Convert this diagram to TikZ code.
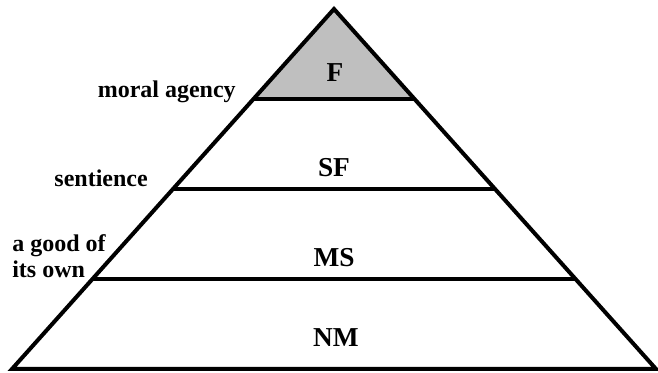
\documentclass[tikz,border=0pt]{standalone}
\usepackage{fontspec}
\setmainfont{Liberation Serif}
\usetikzlibrary{calc}
\definecolor{apexgray}{HTML}{BFBFBF}

\begin{document}
\begin{tikzpicture}[
  x=0.75pt, y=-0.75pt,
  layer/.style={font=\fontsize{20.5}{24}\selectfont\bfseries, inner sep=0pt},
  tag/.style={font=\fontsize{18}{19.5}\selectfont\bfseries, inner sep=0pt, align=left},
  edge/.style={line width=3pt}
]
  \useasboundingbox (0,0) rectangle (658,373);

  % Corners
  \coordinate (top) at (334,9);
  \coordinate (bl) at (12,369);
  \coordinate (br) at (656,369);

  % Tier boundaries
  \foreach \t/\n in {0.25/1, 0.5/2, 0.75/3} {
    \coordinate (l\n) at ($(top)!\t!(bl)$);
    \coordinate (r\n) at ($(top)!\t!(br)$);
  }

  % Apex tier
  \fill[apexgray] (top) -- (l1) -- (r1) -- cycle;

  % Outline and tiers
  \draw[edge] (top) -- (bl) -- (br) -- cycle;
  \foreach \n in {1,2,3}
    \draw[edge] (l\n) -- (r\n);

  % Tier names
  \node[layer, anchor=base] (f)  at (335,82)  {F};
  \node[layer, anchor=base] (sf) at (334,177) {SF};
  \node[layer, anchor=base] (ms) at (334,267) {MS};
  \node[layer, anchor=base] (nm) at (336,347) {NM};

  % Thresholds
  \node[tag, anchor=base east] (agency)    at (236,98)  {moral agency};
  \node[tag, anchor=base east] (sentience) at (148,187) {sentience};
  \node[tag, anchor=south west] (good)     at (12,278)  {a good of\\its own};
\end{tikzpicture}
\end{document}
